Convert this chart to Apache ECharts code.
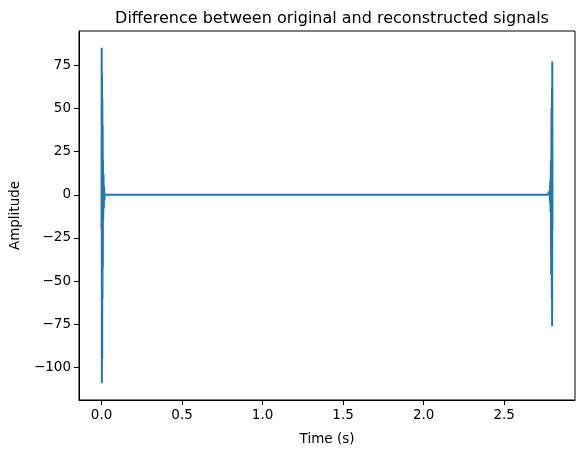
<!DOCTYPE html><html><head><meta charset="utf-8"><script src="https://cdn.jsdelivr.net/npm/echarts@6/dist/echarts.min.js"></script></head><body style="margin:0"><div id="c" style="width:584px;height:454px"></div><script>
var times=[0,0.001,0.002,0.003,0.004,0.005,0.006,0.007,0.008,0.009,0.010,0.012,0.014,0.016,0.018,0.02,0.03,1.4,2.77,2.78,2.782,2.784,2.786,2.788,2.79,2.792,2.794,2.796,2.797,2.798,2.799,2.8];
var diffs=[-20,85,-109,70,-95,56,-60,40,-42,20,-15,12,-8,5,-3,0,0,0,0,0,2,-4,8,-10,20,-46,50,-60,62,-76,77,-20];
var xTicks=[0,0.5,1,1.5,2,2.5];
var yTicks=[-100,-75,-50,-25,0,25,50,75];
var f='DejaVu Sans';
echarts.init(document.getElementById('c')).setOption({animation:false,
title:{text:'Difference between original and reconstructed signals',left:327,textAlign:'center',top:6,textStyle:{fontFamily:f,fontSize:16,fontWeight:'normal',color:'#000'}},
grid:{left:79,right:9,top:31,bottom:54,show:true,borderColor:'#000',borderWidth:1},
xAxis:{type:'value',min:-0.14,max:2.94,name:'Time (s)',nameLocation:'middle',nameGap:32,nameTextStyle:{fontFamily:f,fontSize:13.5,color:'#000'},
axisLine:{onZero:false,lineStyle:{color:'#000'}},splitLine:{show:false},
axisTick:{show:true,customValues:xTicks,length:5,lineStyle:{color:'#000'}},axisLabel:{customValues:xTicks,margin:8,fontFamily:f,fontSize:13.5,color:'#000',formatter:function(v){return v.toFixed(1)}}},
yAxis:{type:'value',min:-118.7,max:94.7,name:'Amplitude',nameLocation:'middle',nameGap:57,nameTextStyle:{fontFamily:f,fontSize:13.5,color:'#000'},
axisLine:{show:true,onZero:false,lineStyle:{color:'#000'}},splitLine:{show:false},
axisTick:{show:true,customValues:yTicks,length:5,lineStyle:{color:'#000'}},axisLabel:{customValues:yTicks,margin:8,fontFamily:f,fontSize:13.5,color:'#000',formatter:function(v){return v<0?'\u2212'+(-v):''+v}}},
series:[{type:'line',showSymbol:false,data:times.map(function(t,i){return [t,diffs[i]]}),lineStyle:{color:'#1f77b4',width:2}}]
});
</script></body></html>
